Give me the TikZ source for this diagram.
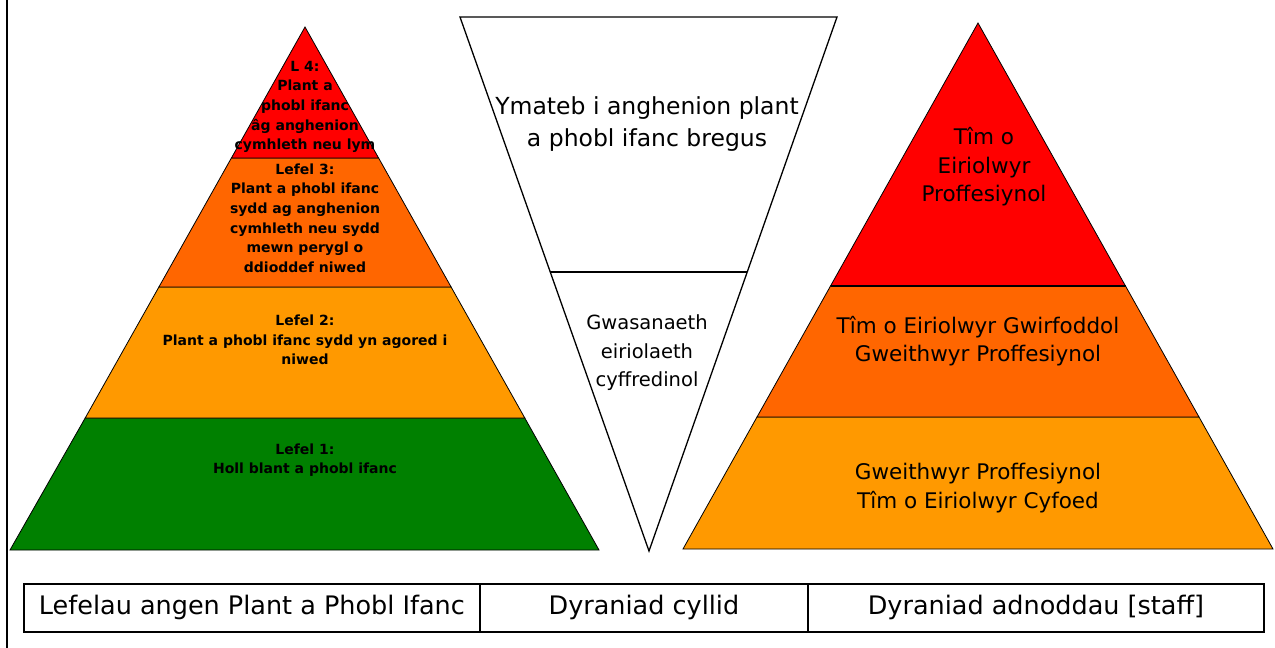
\documentclass[tikz,border=0pt]{standalone}
\usepackage{fontspec}
\setmainfont{DejaVu Sans}
\definecolor{cRed}{HTML}{FF0000}
\definecolor{cOrange}{HTML}{FF6600}
\definecolor{cAmber}{HTML}{FF9900}
\definecolor{cGreen}{HTML}{008000}
\begin{document}
\begin{tikzpicture}[x=1pt,y=-1pt,
  band/.style={draw=black,line width=0.8pt,line join=miter},
  lbl/.style={align=center,inner sep=0pt,font=\fontsize{14}{19.6}\selectfont\bfseries},
  vtxt/.style={align=center,inner sep=0pt},
  cell/.style={draw=black,line width=1.8pt,minimum height=48pt,inner sep=0pt,anchor=north west,font=\fontsize{25.5}{30}\selectfont}]
\useasboundingbox (0,0) rectangle (1275,648);
\draw[line width=2pt] (6.5,0) -- (6.5,648);
% left pyramid
\path[band,fill=cGreen]  (85.2,418) -- (524.8,418) -- (599,550) -- (10,550) -- cycle;
\path[band,fill=cAmber]  (158.9,287) -- (451.1,287) -- (524.8,418) -- (85.2,418) -- cycle;
\path[band,fill=cOrange] (231.4,158) -- (378.6,158) -- (451.1,287) -- (158.9,287) -- cycle;
\path[band,fill=cRed]    (305,27) -- (378.6,158) -- (231.4,158) -- cycle;
\node[lbl] (l4) at (305,107) {L 4:\\Plant a\\phobl ifanc\\âg anghenion\\cymhleth neu lym};
\node[lbl] (l3) at (305,218) {Lefel 3:\\Plant a phobl ifanc\\sydd ag anghenion\\cymhleth neu sydd\\mewn perygl o\\ddioddef niwed};
\node[lbl] (l2) at (305,340) {Lefel 2:\\Plant a phobl ifanc sydd yn agored i\\niwed};
\node[lbl] (l1) at (305,460) {Lefel 1:\\Holl blant a phobl ifanc};
% inverted triangle
\path[draw=black,line width=1.3pt,fill=white] (460,17) -- (837,17) -- (649,551) -- cycle;
\draw[line width=1.3pt] (550,272) -- (747,272);
\node[vtxt,font=\fontsize{23.5}{32}\selectfont] (resp) at (647,124) {Ymateb i anghenion plant\\a phobl ifanc bregus};
\node[vtxt,font=\fontsize{19.5}{28.5}\selectfont] (gen) at (647,353) {Gwasanaeth\\eiriolaeth\\cyffredinol};
% right pyramid
\path[band,fill=cAmber]  (757,417) -- (1199,417) -- (1273,549) -- (683,549) -- cycle;
\path[band,fill=cOrange] (830.5,286) -- (1125.5,286) -- (1199,417) -- (757,417) -- cycle;
\path[band,fill=cRed]    (978,23) -- (1125.5,286) -- (830.5,286) -- cycle;
\draw[line width=2.2pt] (830.5,286) -- (1125.5,286);
\node[vtxt,font=\fontsize{21.5}{28.5}\selectfont] (r3) at (984,167) {Tîm o\\Eiriolwyr\\Proffesiynol};
\node[vtxt,font=\fontsize{21.5}{28.5}\selectfont] (r2) at (978,341) {Tîm o Eiriolwyr Gwirfoddol\\Gweithwyr Proffesiynol};
\node[vtxt,font=\fontsize{21.5}{28.5}\selectfont] (r1) at (978,488) {Gweithwyr Proffesiynol\\Tîm o Eiriolwyr Cyfoed};
% table
\node[cell,minimum width=456pt] (c1) at (23,583) {Lefelau angen Plant a Phobl Ifanc};
\node[cell,minimum width=328pt] (c2) at (479,583) {Dyraniad cyllid};
\node[cell,minimum width=456pt] (c3) at (807,583) {Dyraniad adnoddau [staff]};
\end{tikzpicture}
\end{document}
